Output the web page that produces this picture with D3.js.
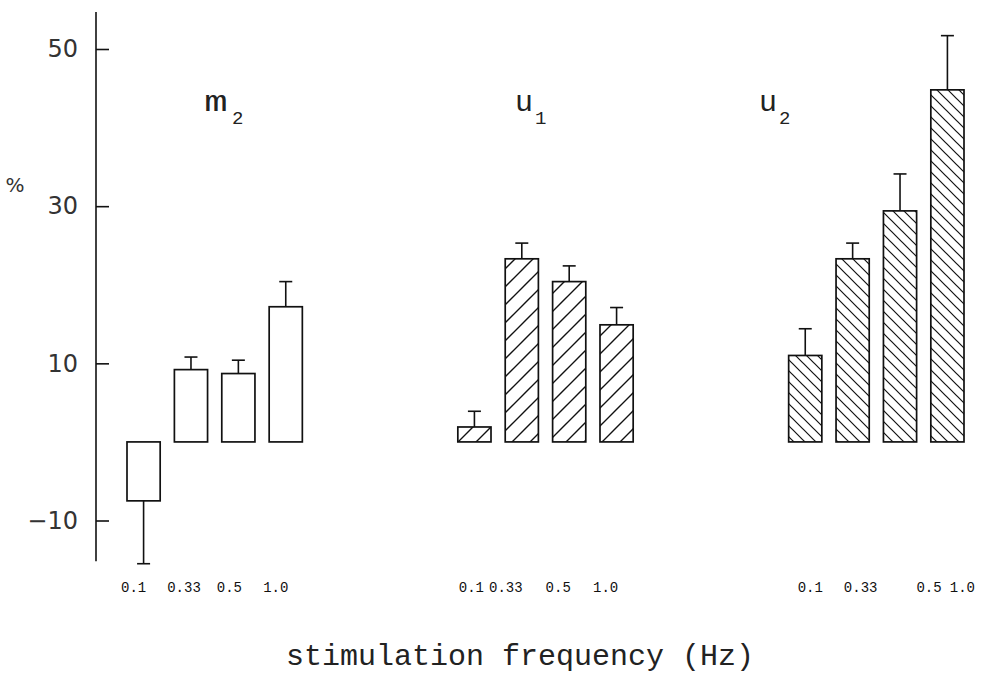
<!DOCTYPE html>
<html>
<head>
<meta charset="utf-8">
<script src="https://cdn.jsdelivr.net/npm/d3@7"></script>
<style>
  body { margin: 0; background: #fff; }
  svg { display: block; }
</style>
</head>
<body>
<svg id="chart"></svg>
<script>
// data
const groups = ['m2', 'u1', 'u2']
const groupBase = ['m', 'u', 'u']
const groupSub = ['2', '1', '2']
const freqs = ['0.1', '0.33', '0.5', '1.0']
const m2Values = [-7.5, 9.2, 8.7, 17.2]
const m2Err = [8.0, 1.6, 1.7, 3.2]
const u1Values = [1.9, 23.3, 20.4, 14.9]
const u1Err = [2.0, 2.0, 2.0, 2.2]
const u2Values = [11.0, 23.3, 29.4, 44.8]
const u2Err = [3.4, 2.0, 4.7, 6.9]
const yTicks = [-10, 10, 30, 50]
const yLabel = '%'
const xTitle = 'stimulation frequency (Hz)'

const width = 1004
const height = 676

const valueSets = [m2Values, u1Values, u2Values]
const errSets = [m2Err, u1Err, u2Err]
const fills = ['#fff', 'url(#hatchUp)', 'url(#hatchDown)']

const data = []
groups.forEach((g, gi) => {
    freqs.forEach((f, fi) => {
        data.push({group: g, freq: f, value: valueSets[gi][fi], err: errSets[gi][fi], fill: fills[gi]})
    })
})

const svg = d3.select('#chart')
    .attr('width', width)
    .attr('height', height)

// hatch patterns
const defs = svg.append('defs')
defs.append('pattern')
    .attr('id', 'hatchUp')
    .attr('patternUnits', 'userSpaceOnUse')
    .attr('width', 18).attr('height', 18)
    .append('path')
    .attr('d', 'M0,18 L18,0 M-2,2 L2,-2 M16,20 L20,16')
    .attr('stroke', '#111').attr('stroke-width', 1.4)
defs.append('pattern')
    .attr('id', 'hatchDown')
    .attr('patternUnits', 'userSpaceOnUse')
    .attr('width', 11).attr('height', 11)
    .append('path')
    .attr('d', 'M-1,-1 L12,12 M-1,10 L1,12 M10,-1 L12,1')
    .attr('stroke', '#111').attr('stroke-width', 1.2)

const yScale = d3.scaleLinear().domain([-10, 50]).range([520.5, 49])
const x0 = d3.scaleBand().domain(groups).range([127, 964]).paddingInner(0.47)
const x1 = d3.scaleBand().domain(freqs).range([0, x0.bandwidth()]).paddingInner(0.3)

// y axis, ticks pointing into the plot
const axisX = 96
const yAxis = d3.axisLeft(yScale).tickValues(yTicks).tickSize(-13).tickPadding(18).tickFormat(d => d < 0 ? '\u2212' + Math.abs(d) : d)
const yg = svg.append('g')
    .attr('transform', `translate(${axisX},0)`)
    .call(yAxis)
yg.select('.domain').remove()
yg.selectAll('.tick line').attr('stroke', '#111').attr('stroke-width', 1.6)
yg.selectAll('.tick text')
    .attr('font-family', 'DejaVu Sans, sans-serif')
    .attr('font-size', 24)
    .attr('fill', '#333')
svg.append('line')
    .attr('x1', axisX).attr('x2', axisX)
    .attr('y1', yScale(54.7)).attr('y2', yScale(-15.2))
    .attr('stroke', '#111').attr('stroke-width', 1.6)

svg.append('text')
    .attr('x', 15).attr('y', 192)
    .attr('text-anchor', 'middle')
    .attr('font-family', 'DejaVu Sans, sans-serif')
    .attr('font-size', 20)
    .attr('fill', '#333')
    .text(yLabel)

// bars
const bars = svg.append('g')
bars.selectAll('rect')
    .data(data)
    .enter()
    .append('rect')
    .attr('x', d => x0(d.group) + x1(d.freq))
    .attr('y', d => yScale(Math.max(0, d.value)))
    .attr('width', x1.bandwidth())
    .attr('height', d => Math.abs(yScale(d.value) - yScale(0)))
    .attr('fill', d => d.fill)
    .attr('stroke', '#111')
    .attr('stroke-width', 1.7)

// error bars
const capW = 13
const errEnd = d => d.value < 0 ? d.value - d.err : d.value + d.err
const eb = svg.append('g').attr('stroke', '#111').attr('stroke-width', 1.6)
eb.selectAll('.stem')
    .data(data)
    .enter()
    .append('line')
    .attr('x1', d => x0(d.group) + x1(d.freq) + x1.bandwidth() / 2)
    .attr('x2', d => x0(d.group) + x1(d.freq) + x1.bandwidth() / 2)
    .attr('y1', d => yScale(d.value))
    .attr('y2', d => yScale(errEnd(d)))
eb.selectAll('.cap')
    .data(data)
    .enter()
    .append('line')
    .attr('x1', d => x0(d.group) + x1(d.freq) + x1.bandwidth() / 2 - capW / 2)
    .attr('x2', d => x0(d.group) + x1(d.freq) + x1.bandwidth() / 2 + capW / 2)
    .attr('y1', d => yScale(errEnd(d)))
    .attr('y2', d => yScale(errEnd(d)))

// frequency labels under each group (typed, so a little off-centre)
const labelShift = [[-10, -7, -9, -10], [-3, -16, -11, -11], [5, 8, 29, 15]]
groups.forEach((g, gi) => {
    const ax = d3.axisBottom(x1).tickSize(0).tickPadding(0)
    const gg = svg.append('g')
        .attr('transform', `translate(${x0(g)},592)`)
        .call(ax)
    gg.select('.domain').remove()
    gg.selectAll('.tick text')
        .attr('dy', 0)
        .attr('dx', (d, i) => labelShift[gi][i])
        .attr('font-family', 'Liberation Mono, monospace')
        .attr('font-size', 14)
        .attr('fill', '#111')
})

// group names with subscripts
const nameX = [216, 524, 768]
const gl = svg.append('g').attr('font-family', 'Liberation Mono, Courier New, monospace').attr('fill', '#222')
groups.forEach((g, gi) => {
    gl.append('text')
        .attr('transform', `translate(${nameX[gi]},111) scale(${groupBase[gi] === 'm' ? 1.3 : 1.0},1)`)
        .attr('text-anchor', 'middle')
        .attr('font-size', 30)
        .text(groupBase[gi])
    gl.append('text')
        .attr('x', nameX[gi] + (groupBase[gi] === 'm' ? 16 : 11))
        .attr('y', 124)
        .attr('font-size', 19)
        .text(groupSub[gi])
})

svg.append('text')
    .attr('x', 520).attr('y', 665)
    .attr('text-anchor', 'middle')
    .attr('font-family', 'Liberation Mono, Courier New, monospace')
    .attr('font-size', 30)
    .attr('fill', '#222')
    .text(xTitle)
</script>
</body>
</html>
